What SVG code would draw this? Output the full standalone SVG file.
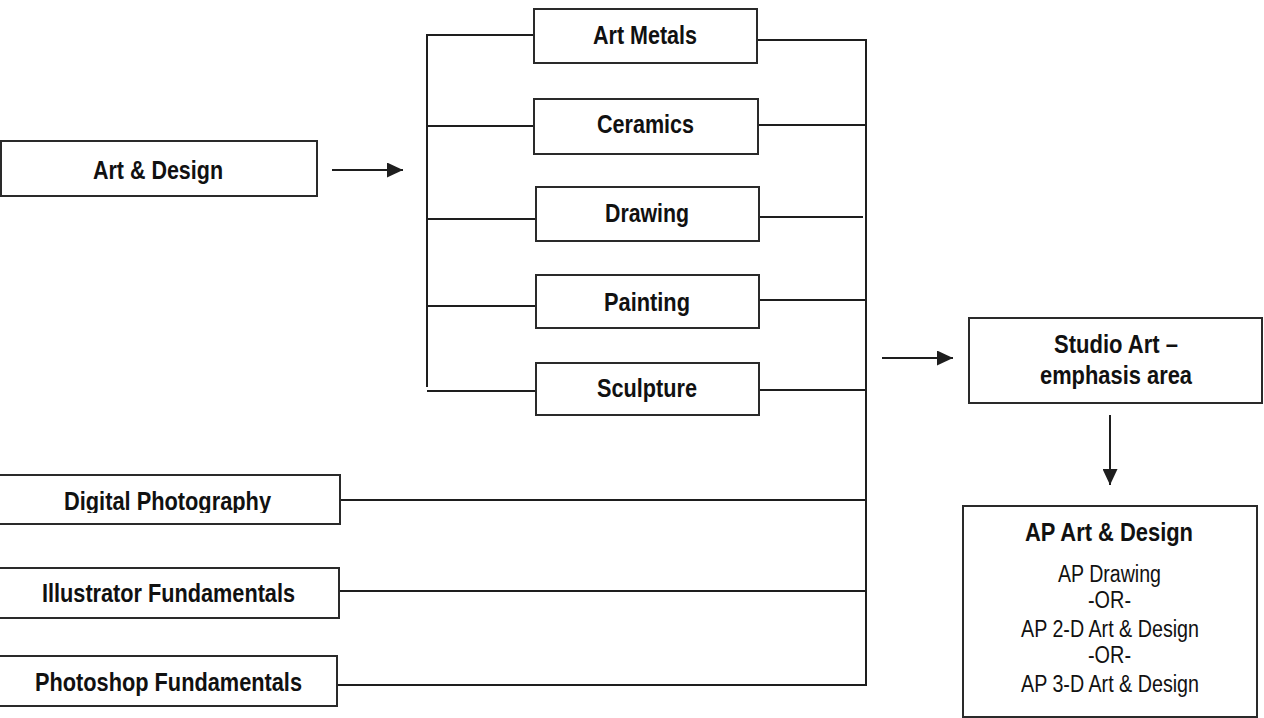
<svg xmlns="http://www.w3.org/2000/svg" width="1264" height="718" viewBox="0 0 1264 718">
<style>
.box{fill:#fff;stroke:#2a2a2a;stroke-width:2}
.ln{fill:none;stroke:#1e1e1e;stroke-width:2}
.b{font-family:"Liberation Sans",Arial,sans-serif;font-weight:bold;font-size:25.5px;fill:#111;text-anchor:middle}
.r{font-family:"Liberation Sans",Arial,sans-serif;font-size:23.5px;fill:#111;text-anchor:middle}
</style>
<defs>
<marker id="ah" markerWidth="16" markerHeight="15" refX="16" refY="7.5" orient="auto" markerUnits="userSpaceOnUse">
<polygon points="0,0 16,7.5 0,15" fill="#1e1e1e"/>
</marker>
<clipPath id="dpclip"><rect x="0" y="476" width="340" height="37"/></clipPath>
</defs>
<rect width="1264" height="718" fill="#fff"/>

<g id="connectors">
<line class="ln" x1="332" y1="170" x2="403" y2="170" marker-end="url(#ah)"/>
<path class="ln" d="M535,35 H427 V387"/>
<line class="ln" x1="427" y1="126" x2="535" y2="126"/>
<line class="ln" x1="427" y1="219" x2="537" y2="219"/>
<line class="ln" x1="427" y1="306" x2="537" y2="306"/>
<line class="ln" x1="427" y1="391" x2="537" y2="391"/>
<path class="ln" d="M757,40 H866 V685 H337"/>
<line class="ln" x1="757" y1="125" x2="866" y2="125"/>
<line class="ln" x1="759" y1="217" x2="863" y2="217"/>
<line class="ln" x1="759" y1="300" x2="866" y2="300"/>
<line class="ln" x1="759" y1="390" x2="866" y2="390"/>
<line class="ln" x1="340" y1="500" x2="866" y2="500"/>
<line class="ln" x1="339" y1="591" x2="866" y2="591"/>
<line class="ln" x1="882" y1="358" x2="953" y2="358" marker-end="url(#ah)"/>
<line class="ln" x1="1110" y1="415" x2="1110" y2="485" marker-end="url(#ah)"/>
</g>

<g id="art-design">
<rect class="box" x="1" y="141" width="316" height="55"/>
<text class="b" x="158" y="179" textLength="130" lengthAdjust="spacingAndGlyphs">Art &amp; Design</text>
</g>
<g id="art-metals">
<rect class="box" x="534" y="9" width="223" height="54"/>
<text class="b" x="645" y="44" textLength="104" lengthAdjust="spacingAndGlyphs">Art Metals</text>
</g>
<g id="ceramics">
<rect class="box" x="534" y="99" width="224" height="55"/>
<text class="b" x="645.5" y="133" textLength="97" lengthAdjust="spacingAndGlyphs">Ceramics</text>
</g>
<g id="drawing">
<rect class="box" x="536" y="187" width="223" height="54"/>
<text class="b" x="647" y="222" textLength="84" lengthAdjust="spacingAndGlyphs">Drawing</text>
</g>
<g id="painting">
<rect class="box" x="536" y="275" width="223" height="53"/>
<text class="b" x="647" y="311" textLength="86" lengthAdjust="spacingAndGlyphs">Painting</text>
</g>
<g id="sculpture">
<rect class="box" x="536" y="363" width="223" height="52"/>
<text class="b" x="647" y="397" textLength="100" lengthAdjust="spacingAndGlyphs">Sculpture</text>
</g>
<g id="digital-photography">
<rect class="box" x="-2" y="475" width="342" height="49"/>
<text class="b" x="167.5" y="510" textLength="207" lengthAdjust="spacingAndGlyphs" clip-path="url(#dpclip)">Digital Photography</text>
</g>
<g id="illustrator-fundamentals">
<rect class="box" x="-2" y="568" width="341" height="50"/>
<text class="b" x="168.5" y="602" textLength="253" lengthAdjust="spacingAndGlyphs">Illustrator Fundamentals</text>
</g>
<g id="photoshop-fundamentals">
<rect class="box" x="-2" y="656" width="339" height="50"/>
<text class="b" x="168.5" y="691" textLength="267" lengthAdjust="spacingAndGlyphs">Photoshop Fundamentals</text>
</g>
<g id="studio-art">
<rect class="box" x="969" y="318" width="293" height="85"/>
<text class="b" x="1116" y="353" textLength="124" lengthAdjust="spacingAndGlyphs">Studio Art –</text>
<text class="b" x="1116" y="384" textLength="152" lengthAdjust="spacingAndGlyphs">emphasis area</text>
</g>
<g id="ap-art-design">
<rect class="box" x="963" y="506" width="294" height="211"/>
<text class="b" x="1109" y="541" textLength="168" lengthAdjust="spacingAndGlyphs">AP Art &amp; Design</text>
<text class="r" x="1109.5" y="582" textLength="103" lengthAdjust="spacingAndGlyphs">AP Drawing</text>
<text class="r" x="1109.5" y="608" textLength="43" lengthAdjust="spacingAndGlyphs">-OR-</text>
<text class="r" x="1110" y="637" textLength="178" lengthAdjust="spacingAndGlyphs">AP 2-D Art &amp; Design</text>
<text class="r" x="1109.5" y="663" textLength="43" lengthAdjust="spacingAndGlyphs">-OR-</text>
<text class="r" x="1110" y="692" textLength="178" lengthAdjust="spacingAndGlyphs">AP 3-D Art &amp; Design</text>
</g>
</svg>
